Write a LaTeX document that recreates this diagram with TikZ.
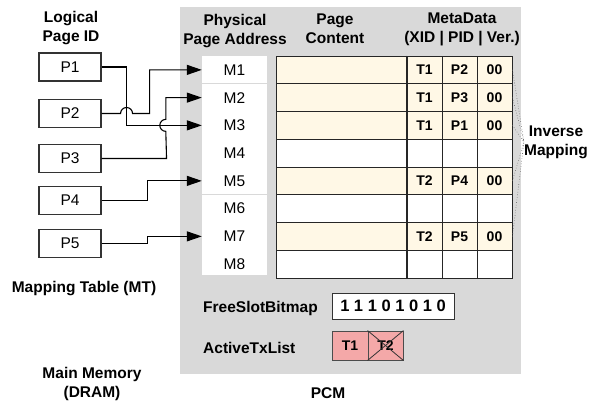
\documentclass[tikz,border=0pt]{standalone}
\usepackage{fontspec}
\setmainfont{Liberation Sans}
\usetikzlibrary{arrows.meta,positioning,calc}
\definecolor{pcmgray}{RGB}{217,217,217}
\definecolor{cream}{RGB}{255,248,230}
\definecolor{txpink}{RGB}{244,168,168}
\tikzset{
  pbox/.style={draw=black!80,line width=1.1pt,minimum width=62pt,minimum height=28pt,inner sep=0pt},
  mcell/.style={minimum width=65pt,minimum height=27.75pt,inner sep=0pt},
  cell/.style={draw=black!85,line width=0.9pt,minimum height=27.75pt,inner sep=0pt,font=\fontsize{14}{16}\selectfont\bfseries},
  link/.style={line width=1.1pt,-{Triangle[length=15pt,width=10pt]}},
  head/.style={font=\fontsize{15.5}{19}\selectfont\bfseries,align=center,inner sep=0pt}
}
\begin{document}
\fontsize{15.5}{19}\selectfont
\begin{tikzpicture}[x=1pt,y=-1pt]
\useasboundingbox (0,0) rectangle (590,403);
% PCM area
\fill[pcmgray] (180,7) rectangle (521,374);
\fill[white] (202,56) rectangle (267,275);
% physical page addresses
\foreach \i in {1,...,8}
  \node[mcell] (m\i) at (234.5,{69.875+(\i-1)*27.75}) {M\i};
\draw[pcmgray,line width=1pt] (m1.south west) -- (m1.south east);
\draw[pcmgray,line width=1pt] (m5.south west) -- (m5.south east);
% pages with their metadata
\foreach \i/\fc/\tx/\pg/\ver in {1/cream/T1/P2/00, 2/cream/T1/P3/00, 3/cream/T1/P1/00, 4/white/{}/{}/{},
                                 5/cream/T2/P4/00, 6/white/{}/{}/{}, 7/cream/T2/P5/00, 8/white/{}/{}/{}} {
  \node[cell,fill=\fc,minimum width=131pt] (c\i) at (341.5,{69.875+(\i-1)*27.75}) {};
  \node[cell,fill=\fc,minimum width=35pt] (x\i) at (424.5,{69.875+(\i-1)*27.75}) {\tx};
  \node[cell,fill=\fc,minimum width=35pt] (d\i) at (459.5,{69.875+(\i-1)*27.75}) {\pg};
  \node[cell,fill=\fc,minimum width=35pt] (v\i) at (494.5,{69.875+(\i-1)*27.75}) {\ver};
}
\draw[line width=1.8pt,black!85] (x1.north west) -- (x8.south west);
% headings
\node[head] (lpid) at (71,28) {Logical\\Page ID};
\node[head] (ppa) at (235,31) {Physical\\Page Address};
\node[head] (pc) at (335,29) {Page\\Content};
\node[head] (md) at (462,29) {MetaData\\(XID | PID | Ver.)};
\node[head] (inv) at (556,142) {Inverse\\Mapping};
\node[head] (mt) at (84,289) {Mapping Table (MT)};
\node[head] (dram) at (92,384) {Main Memory\\(DRAM)};
\node[head] (pcm) at (328,393) {PCM};
% inverse mapping
\foreach \r in {1,2,3,5,7}
  \draw[dotted,black!60,line width=0.6pt] (v\r.east) -- (inv.west);
% logical pages
\node[pbox] (p1) at (70,67) {P1};
\node[pbox] (p2) at (70,113.5) {P2};
\node[pbox] (p3) at (70,158.5) {P3};
\node[pbox] (p4) at (70,200.5) {P4};
\node[pbox] (p5) at (70,243.5) {P5};
% mapping table entries
\draw[link] (p1.east) -- ++(25,0) |- (m3.west);
\draw[link] (p2.east) -- ++(19,0) arc[start angle=180,end angle=360,radius=6] -- ++(17,0) |- (m1.west);
\draw[link] (p3.east) -- ++(65,0) -- ($(m3.west)+(-36,6)$) arc[start angle=90,end angle=270,radius=6] |- (m2.west);
\draw[link] (p4.east) -- ++(46,0) |- (m5.west);
\draw[link] (p5.east) -- ++(46,0) |- (m7.west);
% free slots and active transactions
\node[head,anchor=west] (fsb) at (203,308) {FreeSlotBitmap};
\node[draw=black!80,line width=0.9pt,fill=white,minimum width=122pt,minimum height=26pt,inner sep=0pt,
      font=\fontsize{16.5}{19}\selectfont\bfseries] (bits) at (393,306) {1 1 1 0 1 0 1 0};
\node[head,anchor=west] (atl) at (203,348) {ActiveTxList};
\node[cell,draw=black!70,fill=txpink,minimum width=36pt,minimum height=29pt] (t1) at (350,345.5) {T1};
\node[cell,draw=black!70,fill=txpink,minimum width=35pt,minimum height=29pt] (t2) at (385.5,345.5) {T2};
\draw[black!80,line width=0.8pt] (t2.north west) -- (t2.south east) (t2.south west) -- (t2.north east);
\end{tikzpicture}
\end{document}
